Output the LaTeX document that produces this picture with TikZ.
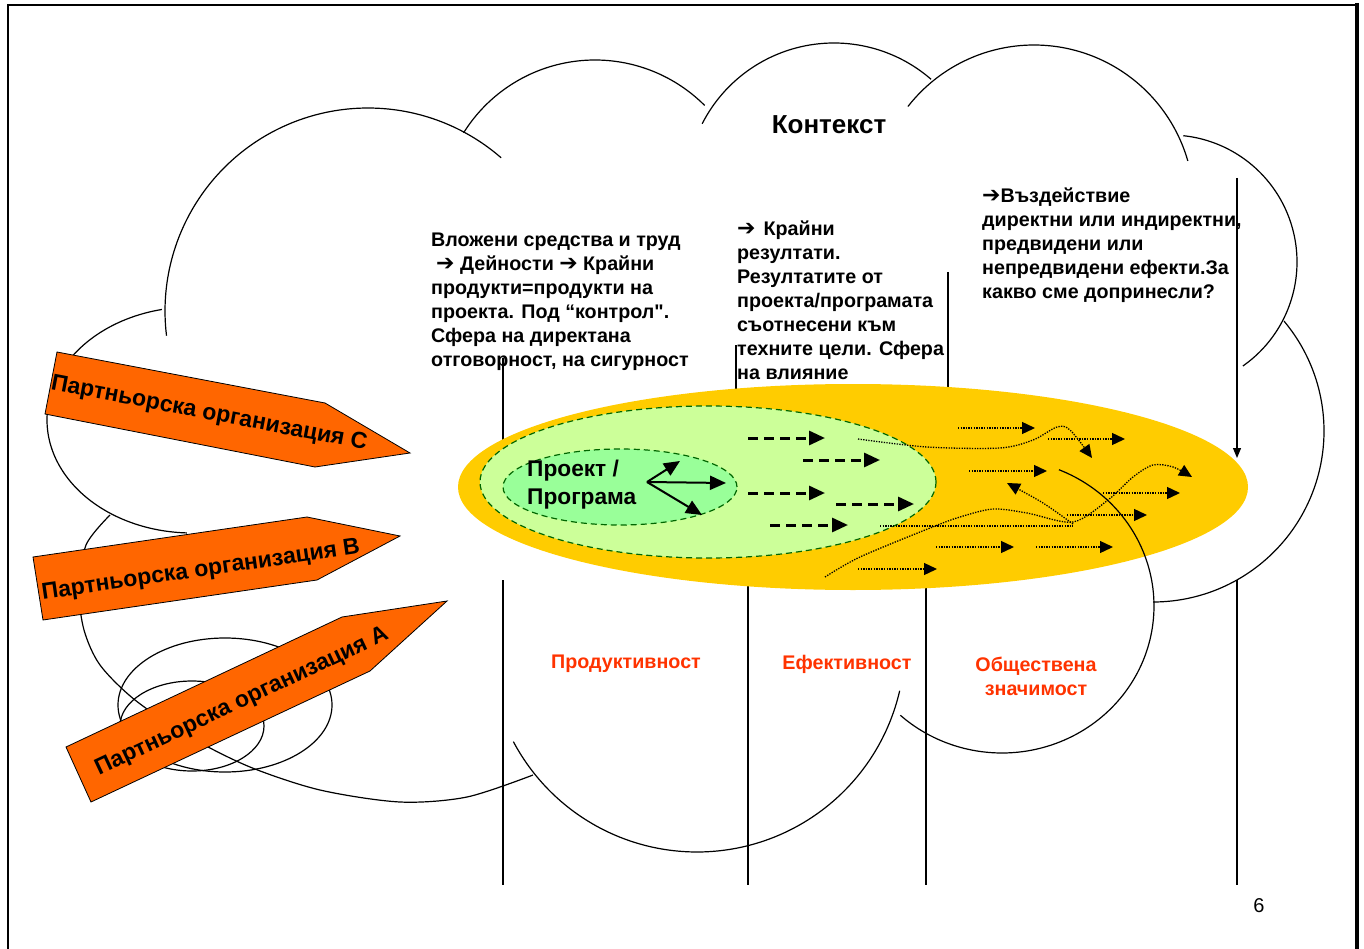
\documentclass[tikz,border=0pt]{standalone}
\usepackage{fontspec}
\setmainfont{Liberation Sans}
\newfontfamily\arrowfont{DejaVu Sans}
\newfontfamily\quotefont{Liberation Sans}
\usetikzlibrary{arrows.meta,calc}

\definecolor{partnerorange}{RGB}{255,102,0}
\definecolor{ocenkared}{RGB}{255,51,0}
\definecolor{vliyanieyellow}{RGB}{255,204,0}
\definecolor{rezultatgreen}{RGB}{204,255,153}
\definecolor{proektgreen}{RGB}{153,255,153}
\definecolor{borderdkgreen}{RGB}{0,102,0}

% one bump of the cloud: centre x, centre y, x radius, y radius, from, to
\newcommand{\cloudarc}[6]{%
  \draw[cloudline] plot[domain=#5:#6,samples=60,smooth] ({#1+#3*cos(\x)},{#2+#4*sin(\x)});}
\newcommand{\strelka}{{\arrowfont\bfseries\fontsize{22}{24}\selectfont ➔}}
\newcommand{\pravkavichki}{{\quotefont\bfseries"}}

\tikzset{
  cloudline/.style={line width=1.2pt},
  phaseline/.style={line width=1.2pt},
  partner/.style={draw=black,line width=0.8pt,fill=partnerorange},
  partnertext/.style={font=\fontsize{23}{26}\selectfont\bfseries,inner sep=0pt},
  blocktext/.style={font=\fontsize{19.7}{24}\selectfont\bfseries,align=left,anchor=north west,inner sep=0pt},
  redlabel/.style={font=\fontsize{19.7}{24}\selectfont\bfseries,text=ocenkared,align=center,inner sep=0pt},
  dashedarrow/.style={line width=3pt,dash pattern=on 10pt off 6pt,-{Triangle[length=16pt,width=14pt]}},
  dottedarrow/.style={line width=1.3pt,dash pattern=on 1.3pt off 1.3pt,-{Triangle[length=13pt,width=12pt]}},
  dottedline/.style={line width=1.3pt,dash pattern=on 1.3pt off 1.3pt},
  solidarrow/.style={line width=2pt,-{Triangle[length=16pt,width=14pt]}},
  ringline/.style={draw=borderdkgreen,line width=1.2pt,dash pattern=on 6pt off 4pt},
}

\begin{document}
\begin{tikzpicture}[x=1pt,y=-1pt]
\useasboundingbox (0,0) rectangle (1364,949);

% slide frame
\draw[line width=2pt] (8,949) -- (8,5) -- (1359,5);
\draw[line width=4pt] (1357,3) -- (1357,949);

    \begin{scope} % phase borders (behind the ellipse)
        \draw[phaseline] (503,358) -- (503,450);
        \draw[phaseline] (503,580) -- (503,885);
        \draw[phaseline] (736,345) -- (736,395);
        \draw[phaseline] (748,580) -- (748,885);
        \draw[phaseline] (948,272) -- (948,395);
        \draw[phaseline] (926,580) -- (926,885);
        \draw[phaseline] (1237,580) -- (1237,885);
    \end{scope}

    \begin{scope} % sphere of influence, results, project
        \fill[vliyanieyellow] (853,487) ellipse [x radius=395pt, y radius=103pt];
        \draw[ringline,fill=rezultatgreen] (708,482) ellipse [x radius=228pt, y radius=76pt];
        \draw[ringline,fill=proektgreen] (620,487) ellipse [x radius=117pt, y radius=38pt];
    \end{scope}

    \begin{scope} % the cloud
        \cloudarc{368}{311}{203}{203}{173}{311}
        \cloudarc{595}{215}{155}{155}{212}{315}
        \cloudarc{834}{191}{148}{148}{207}{311}
        \cloudarc{1034}{205}{160}{160}{218}{344}
        \cloudarc{1170}{262}{127}{127}{276}{415}
        \cloudarc{1153}{431}{171}{171}{-40}{90}
        \cloudarc{1002}{606}{152}{147}{-68}{132}
        \cloudarc{697}{644}{208}{208}{13}{152}
        \cloudarc{192}{420}{145}{113}{92}{258}
        \draw[cloudline] plot[smooth] coordinates {(110,515) (86,545) (79,590) (84,630) (100,665) (135,700) (190,737) (250,767) (320,790) (400,802) (467,797) (533,775)};
        \draw[cloudline] (225,705) ellipse [x radius=107pt, y radius=67pt];
        \draw[cloudline] (192,726) ellipse [x radius=72pt, y radius=45pt];
    \end{scope}

    \begin{scope} % partner organisations
        \draw[partner] (57,352) -- (325,403) -- (410,453) -- (315,467) -- (45,414) -- cycle;
        \draw[partner] (33,557) -- (307,517) -- (400,536) -- (317,580) -- (43,620) -- cycle;
        \draw[partner] (66,747) -- (342,617) -- (447,601) -- (370,671) -- (91,802) -- cycle;
    \end{scope}

\node[partnertext,rotate=-10.8] (partnerC) at (209,414) {Партньорска организация С};
\node[partnertext,rotate=8.3] (partnerB) at (201,571) {Партньорска организация В};
\node[partnertext,rotate=25.2] (partnerA) at (242,702) {Партньорска организация А};

\coordinate (K) at (829,125);
\node[font=\fontsize{26}{30}\selectfont\bfseries] (kontekst) at (K) {Контекст};

\coordinate (T1) at (431,233);
\node[blocktext] (vlozheni) at (T1) {Вложени средства и труд\\
\hspace{5pt}\strelka{} Дейности \strelka{} Крайни\\
продукти=продукти на\\
проекта. Под “контрол\pravkavichki.\\
Сфера на директана\\
отговорност, на сигурност};

\coordinate (T2) at (737,221);
\node[blocktext] (rezultati) at (T2) {\strelka{}\hspace{8pt}Крайни\\
резултати.\\
Резултатите от\\
проекта/програмата\\
съотнесени към\\
техните цели. Сфера\\
на влияние};

\coordinate (T3) at (982,188);
\node[blocktext] (vazdeystvie) at (T3) {\strelka{}Въздействие\\
директни или индиректни,\\
предвидени или\\
непредвидени ефекти.За\\
какво сме допринесли?};

\node[redlabel] (produktivnost) at (626,664) {Продуктивност};
\node[redlabel] (efektivnost) at (847,664) {Ефективност};
\node[redlabel] (znachimost) at (1036,676) {Обществена\\значимост};

\coordinate (P) at (527,460);
\node[font=\fontsize{22.7}{28}\selectfont\bfseries,align=left,anchor=north west,inner sep=0pt] (proekt) at (P) {Проект /\\Програма};

\node[font=\fontsize{20}{24}\selectfont] (page) at (1259,906) {6};

    \begin{scope} % project outputs
        \coordinate (hub) at (647,482);
        \draw[solidarrow] (hub) -- (680,461);
        \draw[solidarrow] (hub) -- (726,483);
        \draw[solidarrow] (hub) -- (702,515);
    \end{scope}

    \begin{scope} % results
        \draw[dashedarrow] (748,438) -- (825,438);
        \draw[dashedarrow] (803,460) -- (880,460);
        \draw[dashedarrow] (748,493) -- (825,493);
        \draw[dashedarrow] (836,504) -- (914,504);
        \draw[dashedarrow] (770,525) -- (848,525);
    \end{scope}

    \begin{scope} % impact
        \draw[dottedarrow] (958,428) -- (1035,428);
        \draw[dottedarrow] (1048,439) -- (1125,439);
        \draw[dottedarrow] (969,471) -- (1047,471);
        \draw[dottedarrow] (1103,493) -- (1180,493);
        \draw[dottedarrow] (1067,515) -- (1147,515);
        \draw[dottedarrow] (936,547) -- (1014,547);
        \draw[dottedarrow] (1036,547) -- (1113,547);
        \draw[dottedarrow] (858,569) -- (937,569);
        \draw[dottedarrow] plot[smooth] coordinates {(858,439) (927,447) (1000,448) (1033,440) (1057,427) (1070,430) (1092,458)};
        \draw[dottedarrow] plot[smooth] coordinates {(825,577) (860,557) (930,528) (960,517) (993,509) (1027,513) (1073,522) (1108,500) (1133,477) (1153,465) (1173,467) (1192,477)};
        \draw[dottedline] (880,526) -- (1073,526);
        \draw[dottedarrow] plot[smooth] coordinates {(1073,524) (1043,503) (1007,483)};
        \draw[phaseline,-{Triangle[length=10pt,width=8pt]}] (1237,178) -- (1237,458);
    \end{scope}

\end{tikzpicture}
\end{document}
